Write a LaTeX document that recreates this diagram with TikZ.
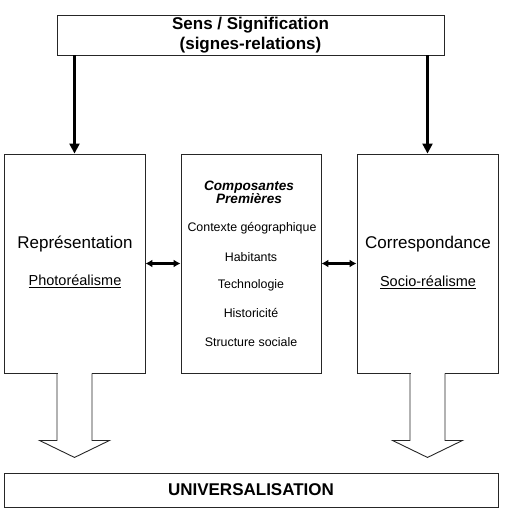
\documentclass[tikz,border=0pt]{standalone}
\usepackage{fontspec}
\setmainfont{Liberation Sans}
\usetikzlibrary{arrows.meta,calc}
\begin{document}
\begin{tikzpicture}[x=1pt,y=-1pt,
  box/.style={draw=black!85,line width=0.9pt,fill=white,inner sep=0pt,minimum width=#1},
  arr/.style={line width=2.2pt,-{Triangle[length=10pt,width=10pt]}},
  darr/.style={line width=2.4pt,{Latex[length=7pt,width=8pt]}-{Latex[length=7pt,width=8pt]}},
  big/.style={font=\fontsize{17}{20}\selectfont,inner sep=0pt},
  sub/.style={font=\fontsize{14.5}{17}\selectfont,inner sep=0pt},
  mid/.style={font=\fontsize{12.4}{14}\selectfont,inner sep=0pt},
  blk/.style={draw=black!85,line width=0.9pt,line join=miter}]
\useasboundingbox (0,0) rectangle (527,516);
% boxes
\node[box=387pt,minimum height=40pt] (T) at (250.5,35) {};
\node[box=141pt,minimum height=219pt] (L) at (74.5,263.5) {};
\node[box=140pt,minimum height=219pt] (M) at (251,263.5) {};
\node[box=141pt,minimum height=219pt] (R) at (427.5,263.5) {};
\node[box=494pt,minimum height=34pt] (U) at (251,490) {};
% top text
\node[big,font=\fontsize{17}{20}\selectfont\bfseries,align=center] (Tt) at (250.5,35) {Sens / Signification\\(signes-relations)};
% left
\node[big] (Lt) at (75,244) {Représentation};
\node[sub] (Ls) at (75,281) {\underline{Photoréalisme}};
% right
\node[big] (Rt) at (428,244) {Correspondance};
\node[sub] (Rs) at (428,282) {\underline{Socio-réalisme}};
% middle
\node[mid,font=\fontsize{13.6}{13}\selectfont\bfseries\itshape,align=center] (Mh) at (249,192.5) {Composantes\\Premières};
\node[mid] (M1) at (252,228) {Contexte géographique};
\node[mid] (M2) at (251,257) {Habitants};
\node[mid] (M3) at (251,285) {Technologie};
\node[mid] (M4) at (251,313) {Historicité};
\node[mid] (M5) at (251,342) {Structure sociale};
% bottom
\node[big,font=\fontsize{17}{20}\selectfont\bfseries] (Ut) at (251,490) {UNIVERSALISATION};
% arrows from top
\draw[arr] (L.north |- T.south) -- (L.north);
\draw[arr] (R.north |- T.south) -- (R.north);
% double arrows
\draw[darr] (L.east) -- (M.west);
\draw[darr] (M.east) -- (R.west);
% block arrows
\coordinate (LA) at (L.south);
\coordinate (RA) at (R.south);
\foreach \c in {LA,RA}{
  \fill[white] ($(\c)+(-17,-1.5)$) rectangle ($(\c)+(17,1.5)$);
  \draw[blk] ($(\c)+(-17.5,0)$) -- ($(\c)+(-17.5,67)$) -- ($(\c)+(-35,67)$) -- ($(\c)+(0,84)$) -- ($(\c)+(35,67)$) -- ($(\c)+(17.5,67)$) -- ($(\c)+(17.5,0)$);
}
\end{tikzpicture}
\end{document}
